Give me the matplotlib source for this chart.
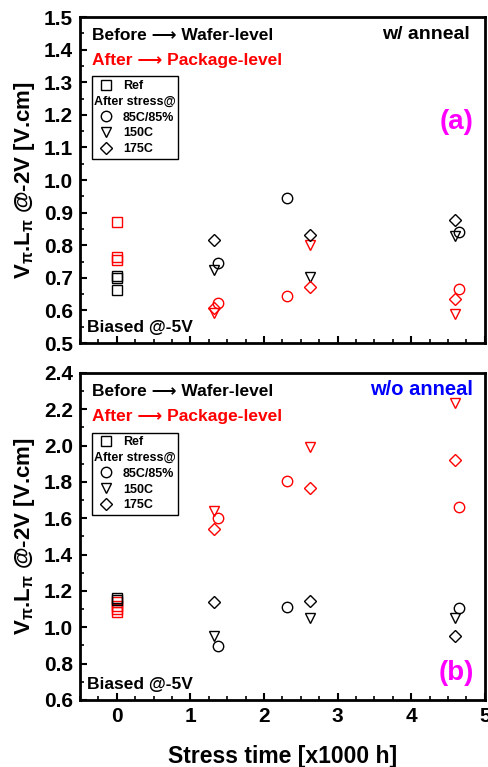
import matplotlib
matplotlib.use('Agg')
import matplotlib.pyplot as plt
from matplotlib.lines import Line2D
from matplotlib.ticker import MultipleLocator

plt.rcParams['font.family'] = ['Liberation Sans', 'DejaVu Sans']
plt.rcParams['font.weight'] = 'bold'
plt.rcParams['mathtext.fontset'] = 'custom'
plt.rcParams['mathtext.rm'] = 'Liberation Sans:bold'
plt.rcParams['mathtext.it'] = 'Liberation Sans:bold'
plt.rcParams['mathtext.bf'] = 'Liberation Sans:bold'

# ---- (a) w/ anneal ----
a_ref_x = [0, 0, 0]
a_ref_before = [0.705, 0.700, 0.662]
a_ref_after = [0.870, 0.765, 0.756]
a_85_x = [1.37, 2.31, 4.65]
a_85_before = [0.745, 0.944, 0.840]
a_85_after = [0.623, 0.644, 0.666]
a_150_x = [1.32, 2.62, 4.59]
a_150_before = [0.723, 0.702, 0.829]
a_150_after = [0.592, 0.800, 0.589]
a_175_x = [1.32, 2.62, 4.59]
a_175_before = [0.815, 0.830, 0.876]
a_175_after = [0.606, 0.672, 0.636]

# ---- (b) w/o anneal ----
b_ref_x = [0, 0]
b_ref_before = [1.162, 1.150]
b_ref_x2 = [0, 0, 0, 0]
b_ref_after = [1.140, 1.120, 1.100, 1.083]
b_85_x = [1.37, 2.31, 4.65]
b_85_before = [0.895, 1.114, 1.109]
b_85_after = [1.599, 1.807, 1.660]
b_150_x = [1.32, 2.62, 4.59]
b_150_before = [0.950, 1.052, 1.052]
b_150_after = [1.641, 1.990, 2.237]
b_175_x = [1.32, 2.62, 4.59]
b_175_before = [1.140, 1.144, 0.950]
b_175_after = [1.540, 1.765, 1.922]

fig = plt.figure(figsize=(4.89, 7.67), dpi=100)
ax1 = fig.add_axes([0.1636, 0.5528, 0.828, 0.425])
ax2 = fig.add_axes([0.1636, 0.0874, 0.828, 0.4263])

ms = 7.5
ARROW = '\u27f6'


def draw(ax, ref_b, ref_bx, ref_a, ref_ax, c85x, c85b, c85a, t150x, t150b, t150a,
         d175x, d175b, d175a):
    kw = dict(linestyle='none', markerfacecolor='none', markersize=ms, markeredgewidth=1.0)
    kw2 = dict(linestyle='none', markerfacecolor='none', markersize=6.5, markeredgewidth=1.0)
    ax.plot(ref_ax, ref_a, marker='s', color='red', **kw2)
    ax.plot(ref_bx, ref_b, marker='s', color='black', **kw2)
    ax.plot(c85x, c85b, marker='o', color='black', **kw)
    ax.plot(c85x, c85a, marker='o', color='red', **kw)
    ax.plot(t150x, t150b, marker='v', color='black', **kw)
    ax.plot(t150x, t150a, marker='v', color='red', **kw)
    ax.plot(d175x, d175b, marker='D', color='black', **kw2)
    ax.plot(d175x, d175a, marker='D', color='red', **kw2)

    ax.set_xlim(-0.5, 5)
    ax.xaxis.set_major_locator(MultipleLocator(1))
    ax.xaxis.set_minor_locator(MultipleLocator(0.25))
    for s in ax.spines.values():
        s.set_linewidth(2)
    ax.tick_params(which='major', direction='in', length=5, width=1.5, labelsize=15,
                   top=False, right=False, pad=5)
    ax.tick_params(which='minor', direction='in', length=3, width=1.2, top=False, right=False)
    ax.set_ylabel(r'V$_\pi$.L$_\pi$ @-2V [V.cm]', fontsize=16, fontweight='bold')
    ax.yaxis.set_label_coords(-0.105, 0.5)

    ax.text(0.03, 0.942, 'Before ' + ARROW + ' Wafer-level', transform=ax.transAxes,
            fontsize=12.5, fontweight='bold', va='center', ha='left')
    ax.text(0.03, 0.867, 'After ' + ARROW + ' Package-level', transform=ax.transAxes,
            fontsize=12.5, fontweight='bold', va='center', ha='left', color='red')
    ax.text(0.017, 0.048, 'Biased @-5V', transform=ax.transAxes,
            fontsize=12.5, fontweight='bold', va='center', ha='left')

    handles = [Line2D([], [], marker='s', color='black', markerfacecolor='none',
                      linestyle='none', markersize=6.5),
               Line2D([], [], linestyle='none'),
               Line2D([], [], marker='o', color='black', markerfacecolor='none',
                      linestyle='none', markersize=7.5),
               Line2D([], [], marker='v', color='black', markerfacecolor='none',
                      linestyle='none', markersize=7.5),
               Line2D([], [], marker='D', color='black', markerfacecolor='none',
                      linestyle='none', markersize=6.5)]
    labels = ['Ref', ' ', '85C/85%', '150C', '175C']
    leg = ax.legend(handles, labels, loc='upper left', bbox_to_anchor=(0.03, 0.818),
                    fancybox=False, edgecolor='black', framealpha=1,
                    prop={'size': 9, 'weight': 'bold'}, handlelength=1.6,
                    handletextpad=0.55, labelspacing=0.3, borderpad=0.3,
                    borderaxespad=0, frameon=True)
    leg.get_frame().set_linewidth(1.0)
    return leg


leg1 = draw(ax1, a_ref_before, a_ref_x, a_ref_after, a_ref_x, a_85_x, a_85_before, a_85_after,
            a_150_x, a_150_before, a_150_after, a_175_x, a_175_before, a_175_after)
leg2 = draw(ax2, b_ref_before, b_ref_x, b_ref_after, b_ref_x2, b_85_x, b_85_before, b_85_after,
            b_150_x, b_150_before, b_150_after, b_175_x, b_175_before, b_175_after)

ax1.set_ylim(0.5, 1.5)
ax1.yaxis.set_major_locator(MultipleLocator(0.1))
ax1.yaxis.set_minor_locator(MultipleLocator(0.05))
ax1.set_xticklabels([])
ax1.text(0.963, 0.945, 'w/ anneal', transform=ax1.transAxes, fontsize=14,
         fontweight='bold', va='center', ha='right')
ax1.text(0.93, 0.678, '(a)', transform=ax1.transAxes, fontsize=20,
         fontweight='bold', va='center', ha='center', color='#ff00ff')

ax2.set_ylim(0.6, 2.4)
ax2.yaxis.set_major_locator(MultipleLocator(0.2))
ax2.yaxis.set_minor_locator(MultipleLocator(0.1))
ax2.set_xlabel('Stress time [x1000 h]', fontsize=16.5, fontweight='bold', labelpad=14)
ax2.text(0.97, 0.95, 'w/o anneal', transform=ax2.transAxes, fontsize=14.5,
         fontweight='bold', va='center', ha='right', color='#0000ff')
ax2.text(0.93, 0.083, '(b)', transform=ax2.transAxes, fontsize=20,
         fontweight='bold', va='center', ha='center', color='#ff00ff')

# "After stress@" row inside legends
fig.canvas.draw()
for leg in (leg1, leg2):
    fb = leg.get_frame().get_window_extent()
    tb = leg.get_texts()[1].get_window_extent()
    x = (fb.x0 + 2) / fig.bbox.width
    y = (tb.y0 + tb.y1) / 2 / fig.bbox.height
    fig.text(x, y, 'After stress@', fontsize=9, fontweight='bold', va='center', ha='left')

fig.savefig('out.png', dpi=100)
